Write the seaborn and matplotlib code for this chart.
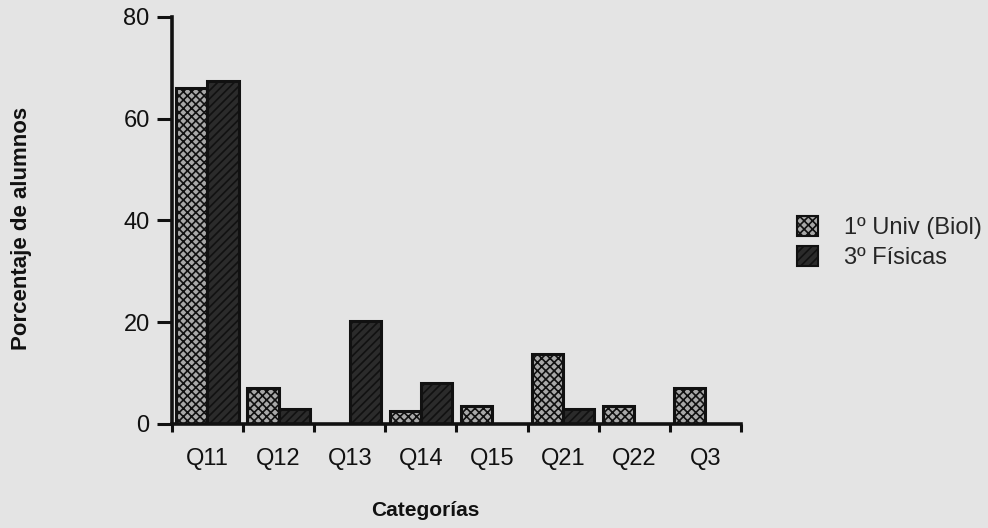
import numpy as np
import pandas as pd
import seaborn as sns
import matplotlib.pyplot as plt
from matplotlib.patches import Patch

# Data (NaN = no bar)
CATEGORIES = ["Q11", "Q12", "Q13", "Q14", "Q15", "Q21", "Q22", "Q3"]
UNIV_BIOL  = [66.0, 7.0, np.nan, 2.5, 3.5, 13.7, 3.5, 7.0]
FISICAS    = [67.5, 3.0, 20.3, 8.0, np.nan, 3.0, np.nan, np.nan]
SERIES     = ["1º Univ (Biol)", "3º Físicas"]

BG = "#e4e4e4"
FILLS = ["#a8a8a8", "#2b2b2b"]
HATCHES = ["xxxx", "////"]
HATCH_COLORS = ["#eeeeee", "#8a8a8a"]

df = pd.DataFrame({
    "cat": CATEGORIES * 2,
    "val": UNIV_BIOL + FISICAS,
    "grupo": [SERIES[0]] * len(CATEGORIES) + [SERIES[1]] * len(CATEGORIES),
})

sns.set_theme(style="ticks")
plt.rcParams["font.family"] = ["Liberation Sans", "DejaVu Sans"]
plt.rcParams["hatch.linewidth"] = 1.2

fig = plt.figure(figsize=(9.88, 5.28), dpi=100, facecolor=BG)
ax = fig.add_axes([0.174, 0.197, 0.576, 0.771])
ax.set_facecolor(BG)

sns.barplot(data=df, x="cat", y="val", hue="grupo", hue_order=SERIES,
            order=CATEGORIES, palette=FILLS, width=0.88, ax=ax,
            edgecolor="#111111", linewidth=2.2, legend=False, saturation=1)

for cont, hatch, hc in zip(ax.containers, HATCHES, HATCH_COLORS):
    for p in cont.patches:
        p.set_hatch(hatch)
        if hasattr(p, "set_hatchcolor"):
            p.set_hatchcolor(hc)

ax.set_xlim(-0.5, len(CATEGORIES) - 0.5)
ax.set_ylim(0, 80)
ax.set_yticks([0, 20, 40, 60, 80])
ax.set_xticks(np.arange(-0.5, len(CATEGORIES)), minor=True)
ax.tick_params(axis="x", which="major", length=0, labelsize=17, pad=17, colors="#111111")
ax.tick_params(axis="x", which="minor", length=6, width=2.2, direction="out", color="#111111")
ax.tick_params(axis="y", length=11, width=2.2, labelsize=17, pad=5, colors="#111111")
for s in ("top", "right"):
    ax.spines[s].set_visible(False)
for s in ("left", "bottom"):
    ax.spines[s].set_linewidth(2.6)
    ax.spines[s].set_color("#111111")

ax.set_xlabel("Categorías", fontsize=15, fontweight="bold", color="#111111")
ax.xaxis.set_label_coords(0.445, -0.19)
ax.set_ylabel("Porcentaje de alumnos", fontsize=16, fontweight="bold", color="#111111")
ax.yaxis.set_label_coords(-0.245, 0.48)

handles = [Patch(facecolor=FILLS[i], edgecolor="#111111", hatch=HATCHES[i], linewidth=1.5)
           for i in range(2)]
fig.legend(handles, SERIES, loc="center left", bbox_to_anchor=(0.785, 0.54),
           frameon=False, fontsize=17, handlelength=0.9, handleheight=0.9,
           handletextpad=1.1, labelspacing=0.3)

fig.savefig("out.png", dpi=100, facecolor=BG)
